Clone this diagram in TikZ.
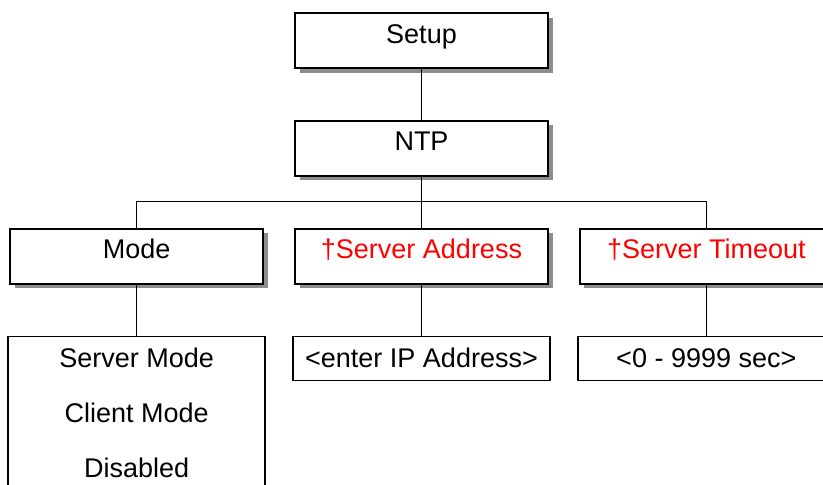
\documentclass[tikz,border=0pt]{standalone}
\usepackage{fontspec}
\setmainfont{Liberation Sans}
\usetikzlibrary{positioning, shadows}
\definecolor{optred}{RGB}{255,0,0}
\tikzset{
  menu/.style={rectangle, draw=black, line width=0.9pt, fill=white, minimum width=126.5pt, inner xsep=0pt, inner ysep=0pt, text height=15pt, text depth=12.5pt, drop shadow={shadow xshift=2.3pt, shadow yshift=-2.3pt, fill=black!45, opacity=1}},
  choice/.style={rectangle, draw=black, line width=0.75pt, fill=white, minimum width=128.5pt, inner xsep=0pt, inner ysep=0pt, text height=15.5pt, text depth=6.5pt},
  link/.style={line width=0.75pt}
}

\begin{document}
\begin{tikzpicture}[
        node distance=25.5pt and 15pt,
        every node/.style={font=\fontsize{13.5}{27.5}\selectfont},
        % list of choices under a menu entry
        choicelist/.style={choice, align=center, text height=70.5pt, text depth=20pt}
        ]
    \clip (0,0) rectangle (411.5pt,-242pt);

    % --- Menu entries ---
    \node (setup) [menu] at (210.75pt,-20.25pt) {Setup};
    \node (ntp) [menu, below=of setup] {NTP};
    \node (srvaddr) [menu, below=of ntp, text=optred] {†Server Address};
    \node (mode) [menu, left=of srvaddr] {Mode};
    \node (srvtime) [menu, right=of srvaddr, text=optred] {†Server Timeout};

    % --- Values ---
    \node (modelist) [choicelist, below=of mode] {Server Mode\\Client Mode\\Disabled};
    \node (ipaddr) [choice, below=of srvaddr] {<enter IP Address>};
    \node (timerange) [choice, below=of srvtime] {<0 - 9999 sec>};

    % --- Connections ---
    \draw [link] (setup) -- (ntp);
    \coordinate [below=12.5pt of ntp.south] (bus);
    \draw [link] (ntp) -- (srvaddr);
    \draw [link] (mode.north) |- (bus) -| (srvtime.north);
    \draw [link] (mode) -- (modelist);
    \draw [link] (srvaddr) -- (ipaddr);
    \draw [link] (srvtime) -- (timerange);
\end{tikzpicture}
\end{document}
